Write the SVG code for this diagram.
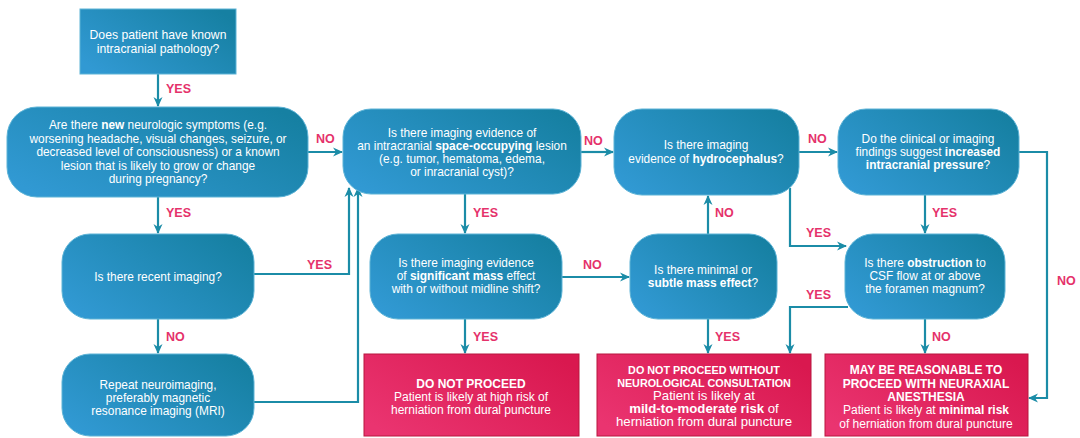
<svg xmlns="http://www.w3.org/2000/svg" width="1080" height="438" viewBox="0 0 1080 438">
  <defs>
    <linearGradient id="gBlue" x1="0" y1="0.8" x2="1" y2="0.2">
      <stop offset="0" stop-color="#3199d3"/>
      <stop offset="1" stop-color="#1680a2"/>
    </linearGradient>
    <linearGradient id="gRed" x1="0" y1="0.8" x2="1" y2="0.2">
      <stop offset="0" stop-color="#ea3470"/>
      <stop offset="1" stop-color="#d9184f"/>
    </linearGradient>
    <marker id="arr" viewBox="0 0 10 10" refX="9" refY="5" markerWidth="10" markerHeight="10" markerUnits="userSpaceOnUse" orient="auto">
      <path d="M0,0.5 L10,5 L0,9.5 L3,5 z" fill="#1b8ca7"/>
    </marker>
    <style>
      .q { fill: url(#gBlue); stroke: #5cb3d6; stroke-width: 1; }
      .r { fill: url(#gRed); stroke: #b8173f; stroke-width: 1; }
      .t { font-family: "Liberation Sans", Arial, sans-serif; font-size: 11.9px; fill: #ffffff; text-anchor: middle; }
      .tr { font-family: "Liberation Sans", Arial, sans-serif; font-size: 12px; fill: #ffffff; text-anchor: middle; }
      .b { font-weight: bold; }
      .lab { font-family: "Liberation Sans", Arial, sans-serif; font-size: 12.5px; font-weight: bold; fill: #e5326b; }
      .c { fill: none; stroke: #1b8ca7; stroke-width: 2.2; marker-end: url(#arr); }
    </style>
  </defs>

  <rect width="1080" height="438" fill="#ffffff"/>

  <!-- connectors -->
  <g id="connectors">
    <path class="c" d="M158,74 V106"/>
    <path class="c" d="M308,152 H342"/>
    <path class="c" d="M158,197 V233"/>
    <path class="c" d="M254,274 H349 V188"/>
    <path class="c" d="M254,402 H358 V188"/>
    <path class="c" d="M158,319 V353"/>
    <path class="c" d="M465,194 V233"/>
    <path class="c" d="M581,152 H613"/>
    <path class="c" d="M562,277 H629"/>
    <path class="c" d="M708,234 V196"/>
    <path class="c" d="M465,319 V353"/>
    <path class="c" d="M708,319 V353"/>
    <path class="c" d="M799,152 H837"/>
    <path class="c" d="M790,188 V246 H846"/>
    <path class="c" d="M925,195 V233"/>
    <path class="c" d="M1019,152 H1047 V398 H1029"/>
    <path class="c" d="M848,307 H790 V353"/>
    <path class="c" d="M925,319 V353"/>

    <text class="lab" x="166" y="93">YES</text>
    <text class="lab" x="316" y="143">NO</text>
    <text class="lab" x="166" y="217">YES</text>
    <text class="lab" x="307" y="269">YES</text>
    <text class="lab" x="166" y="341">NO</text>
    <text class="lab" x="473" y="217">YES</text>
    <text class="lab" x="584" y="145">NO</text>
    <text class="lab" x="583" y="269">NO</text>
    <text class="lab" x="715" y="217">NO</text>
    <text class="lab" x="473" y="341">YES</text>
    <text class="lab" x="715" y="341">YES</text>
    <text class="lab" x="808" y="143">NO</text>
    <text class="lab" x="806" y="237">YES</text>
    <text class="lab" x="932" y="217">YES</text>
    <text class="lab" x="806" y="299">YES</text>
    <text class="lab" x="932" y="341">NO</text>
    <text class="lab" x="1057" y="285">NO</text>
  </g>

  <g id="n-known-pathology">
    <rect class="q" x="80" y="9" width="156" height="65"/>
    <text class="t" x="158" y="39" style="font-size:12.2px">Does patient have known</text>
    <text class="t" x="158" y="53" style="font-size:12.2px">intracranial pathology?</text>
  </g>

  <g id="n-new-symptoms">
    <rect class="q" x="7" y="107" width="301" height="90" rx="30"/>
    <text class="t" x="158" y="129">Are there <tspan class="b">new</tspan> neurologic symptoms (e.g.</text>
    <text class="t" x="158" y="142.5">worsening headache, visual changes, seizure, or</text>
    <text class="t" x="158" y="156">decreased level of consciousness) or a known</text>
    <text class="t" x="158" y="169.5">lesion that is likely to grow or change</text>
    <text class="t" x="158" y="183">during pregnancy?</text>
  </g>

  <g id="n-space-occupying">
    <rect class="q" x="343" y="109" width="238" height="85" rx="28"/>
    <text class="t" x="462" y="137">Is there imaging evidence of</text>
    <text class="t" x="462" y="150">an intracranial <tspan class="b">space-occupying</tspan> lesion</text>
    <text class="t" x="462" y="163">(e.g. tumor, hematoma, edema,</text>
    <text class="t" x="462" y="176">or inracranial cyst)?</text>
  </g>

  <g id="n-hydrocephalus">
    <rect class="q" x="614" y="109" width="185" height="86" rx="28"/>
    <text class="t" x="706" y="149">Is there imaging</text>
    <text class="t" x="706" y="163">evidence of <tspan class="b">hydrocephalus</tspan>?</text>
  </g>

  <g id="n-icp">
    <rect class="q" x="838" y="109" width="181" height="86" rx="28"/>
    <text class="t" x="928" y="143">Do the clinical or imaging</text>
    <text class="t" x="928" y="156">findings suggest <tspan class="b">increased</tspan></text>
    <text class="t" x="928" y="169"><tspan class="b">intracranial pressure</tspan>?</text>
  </g>

  <g id="n-recent-imaging">
    <rect class="q" x="62" y="234" width="192" height="85" rx="28"/>
    <text class="t" x="158" y="281">Is there recent imaging?</text>
  </g>

  <g id="n-repeat-imaging">
    <rect class="q" x="62" y="354" width="192" height="82" rx="28"/>
    <text class="t" x="158" y="389">Repeat neuroimaging,</text>
    <text class="t" x="158" y="402">preferably magnetic</text>
    <text class="t" x="158" y="415">resonance imaging (MRI)</text>
  </g>

  <g id="n-significant-mass">
    <rect class="q" x="370" y="234" width="192" height="85" rx="28"/>
    <text class="t" x="466" y="267">Is there imaging evidence</text>
    <text class="t" x="466" y="280">of <tspan class="b">significant mass</tspan> effect</text>
    <text class="t" x="466" y="293">with or without midline shift?</text>
  </g>

  <g id="n-subtle-mass">
    <rect class="q" x="630" y="234" width="147" height="85" rx="28"/>
    <text class="t" x="703" y="274">Is there minimal or</text>
    <text class="t" x="703" y="287"><tspan class="b">subtle mass effect</tspan>?</text>
  </g>

  <g id="n-obstruction">
    <rect class="q" x="845" y="234" width="160" height="85" rx="28"/>
    <text class="t" x="925" y="267">Is there <tspan class="b">obstruction</tspan> to</text>
    <text class="t" x="925" y="280">CSF flow at or above</text>
    <text class="t" x="925" y="293">the foramen magnum?</text>
  </g>

  <g id="n-do-not-proceed">
    <rect class="r" x="364" y="354" width="215" height="82"/>
    <text class="tr b" x="471" y="388">DO NOT PROCEED</text>
    <text class="tr" x="471" y="401">Patient is likely at high risk of</text>
    <text class="tr" x="471" y="414">herniation from dural puncture</text>
  </g>

  <g id="n-consult">
    <rect class="r" x="597" y="354" width="214" height="82"/>
    <text class="tr b" x="704" y="374" style="font-size:10.8px">DO NOT PROCEED WITHOUT</text>
    <text class="tr b" x="704" y="387" style="font-size:10.8px">NEUROLOGICAL CONSULTATION</text>
    <text class="tr" x="704" y="400" style="font-size:13.2px">Patient is likely at</text>
    <text class="tr" x="704" y="413" style="font-size:13.2px"><tspan class="b">mild-to-moderate risk</tspan> of</text>
    <text class="tr" x="704" y="426" style="font-size:13.2px">herniation from dural puncture</text>
  </g>

  <g id="n-reasonable">
    <rect class="r" x="825" y="354" width="203" height="82"/>
    <text class="tr b" x="926" y="374">MAY BE REASONABLE TO</text>
    <text class="tr b" x="926" y="388">PROCEED WITH NEURAXIAL</text>
    <text class="tr b" x="926" y="401">ANESTHESIA</text>
    <text class="tr" x="926" y="414">Patient is likely at <tspan class="b">minimal risk</tspan></text>
    <text class="tr" x="926" y="428">of herniation from dural puncture</text>
  </g>
</svg>
